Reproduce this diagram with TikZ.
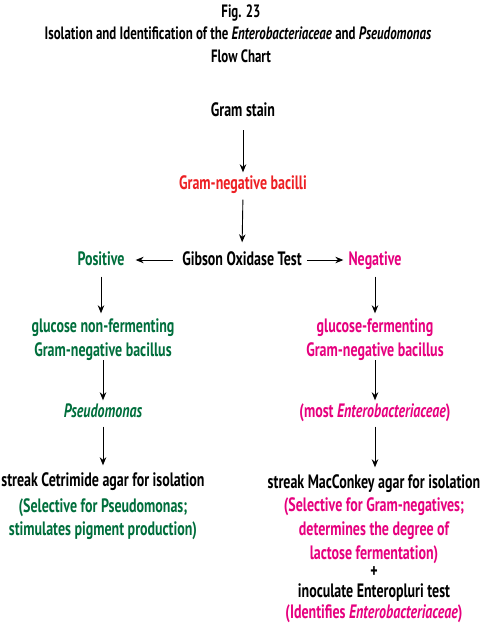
\documentclass[tikz,border=0pt]{standalone}
\usepackage{fontspec}
\setmainfont{PT Sans}[FakeStretch=0.72]
\usetikzlibrary{arrows.meta}
\definecolor{cgreen}{RGB}{0,110,60}
\definecolor{cred}{RGB}{237,32,36}
\definecolor{cmag}{RGB}{230,0,126}
\tikzset{
  lbl/.style={inner sep=0pt, font=\fontsize{19.4}{22}\selectfont\bfseries, text height=14pt, text depth=4pt},
  ttl/.style={lbl, font=\fontsize{17.9}{21}\selectfont\bfseries},
  arr/.style={-{Stealth[length=8pt,width=6.5pt]}, line width=0.9pt, black},
}
\begin{document}
\begin{tikzpicture}[x=1pt,y=-1pt]
\useasboundingbox (0,0) rectangle (482,624);
\node[ttl] (fig) at (241,12) {Fig. 23};
\node[ttl] (title) at (238,34) {Isolation and Identification of the \textit{Enterobacteriaceae} and \textit{Pseudomonas}};
\node[ttl] (fc) at (241,57) {Flow Chart};

\node[lbl] (gs) at (243,111) {Gram stain};
\node[lbl,text=cred] (gnb) at (243,184) {Gram-negative bacilli};
\node[lbl] (got) at (242,260) {Gibson Oxidase Test};
\node[lbl,text=cgreen] (pos) at (101,260) {Positive};
\node[lbl,text=cmag] (neg) at (375,260) {Negative};

\node[lbl,text=cgreen] (gnf1) at (103,327) {glucose non-fermenting};
\node[lbl,text=cgreen] (gnf2) at (103,351) {Gram-negative bacillus};
\node[lbl,text=cgreen] (pse) at (103,412) {\textit{Pseudomonas}};
\node[lbl] (cet) at (103,481) {streak Cetrimide agar for isolation};
\node[lbl,text=cgreen] (cet1) at (103,507) {(Selective for Pseudomonas;};
\node[lbl,text=cgreen] (cet2) at (103,530) {stimulates pigment production)};

\node[lbl,text=cmag] (gf1) at (375,327) {glucose-fermenting};
\node[lbl,text=cmag] (gf2) at (375,351) {Gram-negative bacillus};
\node[lbl,text=cmag] (ent) at (375,412) {(most \textit{Enterobacteriaceae})};
\node[lbl] (mac) at (374,483) {streak MacConkey agar for isolation};
\node[lbl,text=cmag] (mac1) at (374,506) {(Selective for Gram-negatives;};
\node[lbl,text=cmag] (mac2) at (374,530) {determines the degree of};
\node[lbl,text=cmag] (mac3) at (374,554) {lactose fermentation)};
\node[lbl] (plus) at (374,572) {+};
\node[lbl] (inoc) at (374,592) {inoculate Enteropluri test};
\node[lbl,text=cmag] (ident) at (374,613) {(Identifies \textit{Enterobacteriaceae})};

\draw[arr, shorten <=10pt, shorten >=2.5pt] (gs.south) -- (gnb.north);
\draw[arr, shorten <=6.5pt, shorten >=8.5pt] (gnb.south) -- (got.north);
\draw[arr, shorten <=9pt, shorten >=11pt] (got.west) -- (pos.east);
\draw[arr, shorten <=5pt, shorten >=5pt] (got.east) -- (neg.west);
\draw[arr, shorten <=7.5pt, shorten >=4.5pt] (pos.south) -- (pos.south |- gnf1.north);
\draw[arr, shorten <=0pt, shorten >=2.5pt] (gnf2.south) -- (pse.north);
\draw[arr, shorten <=5.5pt, shorten >=6.5pt] (pse.south) -- (cet.north);
\draw[arr, shorten <=7.5pt, shorten >=4.5pt] (neg.south) -- (gf1.north);
\draw[arr, shorten <=0pt, shorten >=2.5pt] (gf2.south) -- (ent.north);
\draw[arr, shorten <=5.5pt, shorten >=6.5pt] (ent.south) -- (ent.south |- mac.north);
\end{tikzpicture}
\end{document}
